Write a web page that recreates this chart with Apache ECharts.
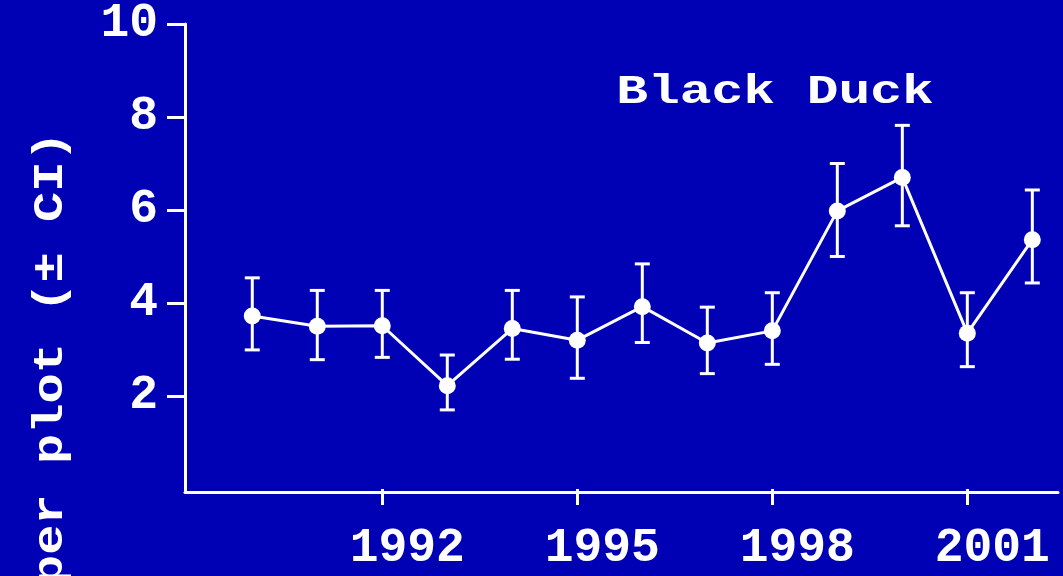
<!DOCTYPE html>
<html>
<head>
<meta charset="utf-8">
<script src="https://cdn.jsdelivr.net/npm/echarts@6/dist/echarts.min.js"></script>
<style>
html,body{margin:0;padding:0;background:#0000B4;}
#chart{width:1063px;height:576px;}
</style>
</head>
<body>
<div id="chart"></div>
<script>
const years = [1990, 1991, 1992, 1993, 1994, 1995, 1996, 1997, 1998, 1999, 2000, 2001, 2002];
const means = [3.72, 3.50, 3.51, 2.22, 3.45, 3.20, 3.92, 3.14, 3.40, 5.98, 6.70, 3.35, 5.36];
const lower = [2.99, 2.78, 2.83, 1.70, 2.79, 2.38, 3.15, 2.48, 2.68, 5.00, 5.66, 2.63, 4.43];
const upper = [4.54, 4.27, 4.27, 2.88, 4.27, 4.13, 4.84, 3.91, 4.22, 7.00, 7.82, 4.22, 6.43];
const xTickValues = [1992, 1995, 1998, 2001];
const yTickValues = [2, 4, 6, 8, 10];
const titleText = 'Black Duck';
const yTitleText = 'Number per plot (\u00B1 CI)';

const FONT = '"Liberation Mono", "Courier New", monospace';
const chart = echarts.init(document.getElementById('chart'));

const xMin = 1988.965, xMax = 2002.395;

chart.setOption({
  backgroundColor: '#0000B4',
  animation: false,
  grid: { left: 185, right: 5, top: 22, bottom: 84, containLabel: false },
  xAxis: [
    {
      type: 'value', min: xMin, max: xMax, position: 'bottom',
      axisLine: { show: true, onZero: false, lineStyle: { color: '#fff', width: 3 } },
      axisTick: { show: false }, axisLabel: { show: false }, splitLine: { show: false }
    },
    {
      type: 'value', min: xMin, max: xMax, position: 'bottom', offset: 9,
      axisLine: { show: false },
      axisTick: { show: true, length: 16, customValues: xTickValues, lineStyle: { color: '#fff', width: 3 } },
      axisLabel: {
        show: true, customValues: xTickValues, color: '#fff', fontFamily: FONT, fontWeight: 'bold',
        fontSize: 48, margin: 24, padding: [0, 0, 0, 50],
        formatter: v => String(Math.round(v))
      },
      splitLine: { show: false }
    }
  ],
  yAxis: {
    type: 'value', min: -0.066, max: 10,
    axisLine: { show: true, onZero: false, lineStyle: { color: '#fff', width: 3 } },
    axisTick: { show: true, length: 18, customValues: yTickValues, lineStyle: { color: '#fff', width: 3 } },
    axisLabel: {
      show: true, customValues: yTickValues, color: '#fff', fontFamily: FONT, fontWeight: 'bold',
      fontSize: 48, margin: 27, padding: [6, 0, 0, 0], formatter: v => String(Math.round(v))
    },
    splitLine: { show: false }
  },
  graphic: [
    {
      type: 'text', x: 775, y: 93, scaleX: 1.29, scaleY: 1,
      style: { text: titleText, fill: '#fff', font: 'bold 41px ' + FONT, textAlign: 'center', textVerticalAlign: 'middle' }
    },
    {
      type: 'text', x: 51, y: 464, rotation: Math.PI / 2, scaleX: 1.12, scaleY: 0.95,
      style: { text: yTitleText, fill: '#fff', font: 'bold 45px ' + FONT, textAlign: 'center', textVerticalAlign: 'middle' }
    }
  ],
  series: [
    {
      type: 'custom',
      xAxisIndex: 0,
      data: years.map((y, i) => [y, lower[i], upper[i]]),
      renderItem: function (params, api) {
        const lo = api.coord([api.value(0), api.value(1)]);
        const hi = api.coord([api.value(0), api.value(2)]);
        const hw = 7.5;
        const st = { stroke: '#fff', lineWidth: 3 };
        return {
          type: 'group',
          children: [
            { type: 'line', shape: { x1: lo[0], y1: lo[1], x2: hi[0], y2: hi[1] }, style: st },
            { type: 'line', shape: { x1: lo[0] - hw, y1: lo[1], x2: lo[0] + hw, y2: lo[1] }, style: st },
            { type: 'line', shape: { x1: hi[0] - hw, y1: hi[1], x2: hi[0] + hw, y2: hi[1] }, style: st }
          ]
        };
      },
      z: 2
    },
    {
      type: 'line',
      xAxisIndex: 0,
      data: years.map((y, i) => [y, means[i]]),
      symbol: 'circle', symbolSize: 17, showSymbol: true,
      lineStyle: { color: '#fff', width: 3 },
      itemStyle: { color: '#fff' },
      z: 3
    }
  ]
});
</script>
</body>
</html>
